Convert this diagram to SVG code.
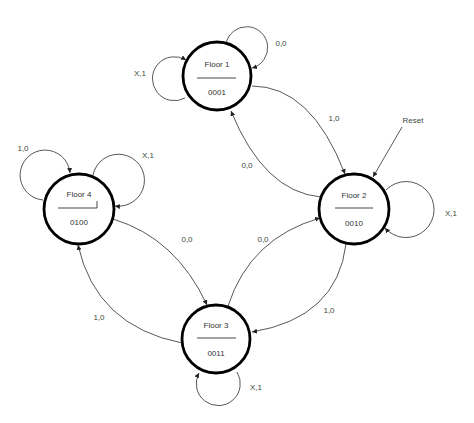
<svg xmlns="http://www.w3.org/2000/svg" width="474" height="423" viewBox="0 0 474 423">
<defs>
<marker id="ah" viewBox="0 0 10 10" refX="10" refY="5" markerWidth="5" markerHeight="5" orient="auto" markerUnits="userSpaceOnUse">
<path d="M0,0 L10,5 L0,10 z" fill="#222"/>
</marker>
<style>
.node{fill:#fff;stroke:#000;stroke-width:2.8}
.sep{stroke:#333;stroke-width:0.9;fill:none}
.edge{fill:none;stroke:#444;stroke-width:0.9;marker-end:url(#ah)}
.t{font-family:"Liberation Sans",Arial,sans-serif;font-size:8px;fill:#333;text-anchor:middle}
.lbl{font-family:"Liberation Sans",Arial,sans-serif;font-size:8px;fill:#3a4a3a;text-anchor:middle}
</style>
</defs>
<rect width="474" height="423" fill="#fff"/>
<g id="connectors">
<path class="edge" d="M226,44 A21,21 0 1 1 252,68"/>
<path class="edge" d="M185,98 A22,22 0 1 1 186,60"/>
<path class="edge" d="M43,200 A25,25 0 1 1 70,173"/>
<path class="edge" d="M93,175 A26,26 0 1 1 115,206"/>
<path class="edge" d="M386,190 A28,28 0 1 1 385,228"/>
<path class="edge" d="M237,372 A22,22 0 1 1 199,373"/>
<path class="edge" d="M402,127 L373,177"/>
<path class="edge" d="M252,86 Q311,86 345,174"/>
<path class="edge" d="M321,197 Q264,192 231,111"/>
<path class="edge" d="M113,219 Q176,238 207,305"/>
<path class="edge" d="M182,343 Q96,326 78,245"/>
<path class="edge" d="M228,306 Q250,238 320,218"/>
<path class="edge" d="M346,244 Q337,318 252,332"/>
<text class="lbl" x="281" y="46">0,0</text>
<text class="lbl" x="140" y="76">X,1</text>
<text class="lbl" x="23" y="151">1,0</text>
<text class="lbl" x="148" y="158">X,1</text>
<text class="lbl" x="451" y="216">X,1</text>
<text class="lbl" x="256" y="390">X,1</text>
<text class="lbl" x="413" y="123">Reset</text>
<text class="lbl" x="334" y="121">1,0</text>
<text class="lbl" x="247" y="168">0,0</text>
<text class="lbl" x="187" y="242">0,0</text>
<text class="lbl" x="263" y="242">0,0</text>
<text class="lbl" x="99" y="320">1,0</text>
<text class="lbl" x="329" y="313">1,0</text>
</g>
<g id="floor1">
<circle class="node" cx="217" cy="76" r="34"/>
<text class="t" x="217" y="67">Floor 1</text>
<line class="sep" x1="197" y1="78" x2="236" y2="78"/>
<text class="t" x="217" y="95">0001</text>
</g>
<g id="floor4">
<circle class="node" cx="79" cy="209" r="35"/>
<text class="t" x="79" y="197">Floor 4</text>
<path class="sep" d="M58,208 L97,208 L97,201"/>
<text class="t" x="79" y="225">0100</text>
</g>
<g id="floor2">
<circle class="node" cx="354" cy="209" r="35"/>
<text class="t" x="354" y="198">Floor 2</text>
<line class="sep" x1="335" y1="208" x2="373" y2="208"/>
<text class="t" x="354" y="226">0010</text>
</g>
<g id="floor3">
<circle class="node" cx="216" cy="339" r="34"/>
<text class="t" x="216" y="328">Floor 3</text>
<line class="sep" x1="197" y1="338" x2="236" y2="338"/>
<text class="t" x="216" y="356">0011</text>
</g>
</svg>
